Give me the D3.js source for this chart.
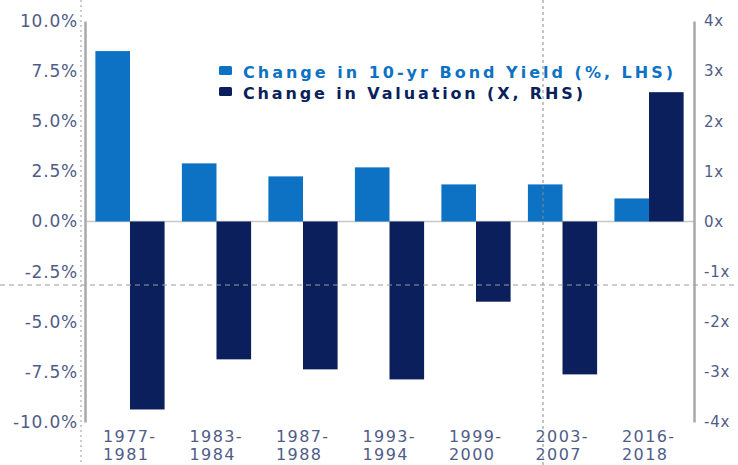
<html>
<head>
<script src="https://d3js.org/d3.v7.min.js"></script>
<style>
body { margin:0; background:#fff; }
text { font-family: "DejaVu Sans", Verdana, sans-serif; }
</style>
</head>
<body>
<script>
var periods = ["1977-1981","1983-1984","1987-1988","1993-1994","1999-2000","2003-2007","2016-2018"];
var bondYield = [8.5, 2.9, 2.25, 2.7, 1.85, 1.85, 1.15];   // %, LHS
var valuation = [-3.75, -2.75, -2.95, -3.15, -1.6, -3.05, 2.58]; // x, RHS
var leftTicks = [10, 7.5, 5, 2.5, 0, -2.5, -5, -7.5, -10];
var rightTicks = [4, 3, 2, 1, 0, -1, -2, -3, -4];
var legendLabels = ["Change in 10-yr Bond Yield (%, LHS)", "Change in Valuation (X, RHS)"];

var w = 738, h = 465;
var pLeft = 85, pRight = 694, pTop = 21, pBottom = 422;
var cLight = "#0d72c4", cDark = "#0a1f5c", tickCol = "#505c88";

var svg = d3.select("body").append("svg").attr("width", w).attr("height", h);

var x = d3.scaleBand().domain(periods).range([pLeft, pRight]).paddingInner(0.2).paddingOuter(0.12);
var yL = d3.scaleLinear().domain([-10, 10]).range([pBottom, pTop]);
var yR = d3.scaleLinear().domain([-4, 4]).range([pBottom, pTop]);

// zero line
svg.append("line").attr("x1", pLeft).attr("x2", pRight).attr("y1", yL(0)).attr("y2", yL(0))
  .attr("stroke", "#c8c8c8").attr("stroke-width", 1.5);

// bars
var half = x.bandwidth() / 2;
svg.selectAll(".b1").data(periods).enter().append("rect")
  .attr("x", function(d){ return x(d); })
  .attr("width", half)
  .attr("y", function(d, i){ return yL(Math.max(0, bondYield[i])); })
  .attr("height", function(d, i){ return Math.abs(yL(bondYield[i]) - yL(0)); })
  .attr("fill", cLight);
svg.selectAll(".b2").data(periods).enter().append("rect")
  .attr("x", function(d){ return x(d) + half; })
  .attr("width", half)
  .attr("y", function(d, i){ return yR(Math.max(0, valuation[i])); })
  .attr("height", function(d, i){ return Math.abs(yR(valuation[i]) - yR(0)); })
  .attr("fill", cDark);

// axes
var axL = svg.append("g").attr("transform", "translate(" + pLeft + ",0)")
  .call(d3.axisLeft(yL).tickValues(leftTicks).tickSize(0).tickPadding(7).tickFormat(function(d){ return d.toFixed(1) + "%"; }));
var axR = svg.append("g").attr("transform", "translate(" + pRight + ",0)")
  .call(d3.axisRight(yR).tickValues(rightTicks).tickSize(0).tickPadding(10).tickFormat(function(d){ return d + "x"; }));
[axL, axR].forEach(function(a){
  a.select(".domain").attr("stroke", "#a8a8a8").attr("stroke-width", 2.5);
  a.selectAll("text").attr("fill", tickCol).style("font-size", "17px").style("font-family", "DejaVu Sans, Verdana, sans-serif").attr("letter-spacing", "0.8");
});
axR.selectAll("text").style("font-size", "15px");

// category labels
var cat = svg.append("g");
periods.forEach(function(p){
  var parts = p.split("-");
  var sx = x(p) + x.bandwidth() / 2 - 27;
  var t = cat.append("text").attr("y", 442).attr("text-anchor", "start")
    .attr("fill", tickCol).style("font-size", "16px").attr("letter-spacing", "1.4");
  t.append("tspan").attr("x", sx).attr("dy", 0).text(parts[0] + "-");
  t.append("tspan").attr("x", sx).attr("dy", 18).text(parts[1]);
});

// legend
var legColors = [cLight, cDark];
legendLabels.forEach(function(l, i){
  var ly = 72 + i * 21;
  svg.append("rect").attr("x", 219).attr("y", ly - 6).attr("width", 13).attr("height", 9).attr("rx", 1.5).attr("fill", legColors[i]);
  svg.append("text").attr("x", 243).attr("y", ly + 6).text(l)
    .attr("fill", legColors[i]).style("font-size", "16px").style("font-weight", "bold")
    .attr("textLength", i == 0 ? 430 : 340).attr("lengthAdjust", "spacing");
});

// crosshair guides from the screenshot
svg.append("line").attr("x1", 0).attr("x2", w).attr("y1", 285).attr("y2", 285)
  .attr("stroke", "#9a9a9a").attr("stroke-dasharray", "5,4").attr("stroke-width", 1);
svg.append("line").attr("x1", 81).attr("x2", 81).attr("y1", 0).attr("y2", h)
  .attr("stroke", "#9a9a9a").attr("stroke-dasharray", "2,3").attr("stroke-width", 1);
svg.append("line").attr("x1", 543).attr("x2", 543).attr("y1", 0).attr("y2", h)
  .attr("stroke", "#8a8a8a").attr("stroke-dasharray", "3,3").attr("stroke-width", 1);
</script>
</body>
</html>
